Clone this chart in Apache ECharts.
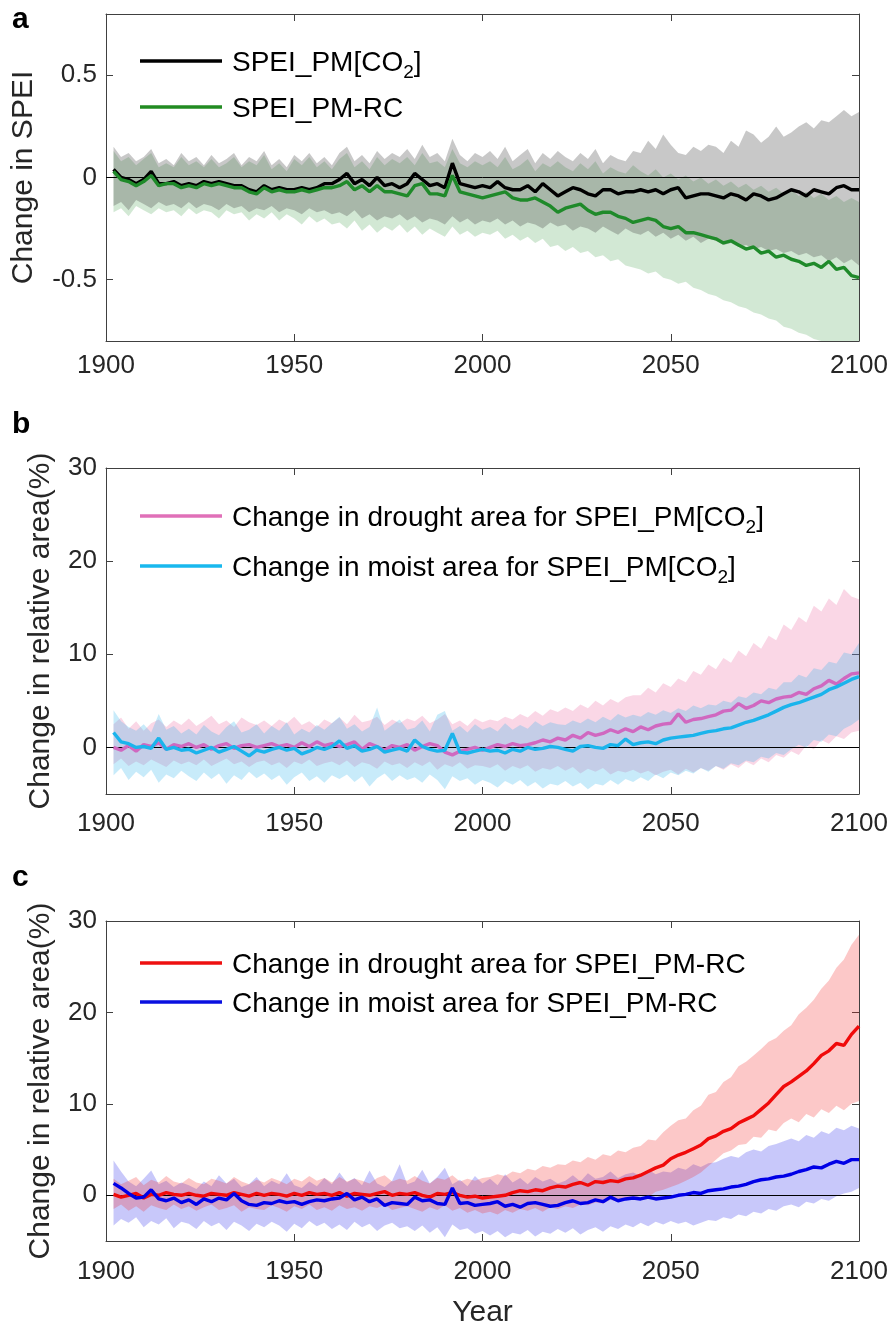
<!DOCTYPE html>
<html><head><meta charset="utf-8">
<script src="https://cdn.jsdelivr.net/npm/echarts@6/dist/echarts.min.js"></script>
<style>html,body{margin:0;padding:0;background:#fff}#c{width:892px;height:1329px}</style>
</head><body><div id="c"></div>
<script>
// x positions: one value every 2 years
const years = []; for (let y = 1902; y <= 2100; y += 2) years.push(y);

// ---------- panel a : change in SPEI ----------
const aPM = [0.04,0.00,-0.01,-0.03,-0.01,0.03,-0.03,-0.03,-0.02,-0.04,
 -0.03,-0.04,-0.02,-0.03,-0.02,-0.03,-0.04,-0.04,-0.06,-0.07,
 -0.04,-0.06,-0.05,-0.06,-0.06,-0.05,-0.06,-0.05,-0.03,-0.03,
 -0.01,0.02,-0.03,-0.01,-0.04,0.00,-0.04,-0.03,-0.05,-0.03,
 0.02,-0.01,-0.04,-0.03,-0.05,0.07,-0.03,-0.04,-0.05,-0.04,
 -0.05,-0.02,-0.05,-0.06,-0.06,-0.04,-0.07,-0.03,-0.06,-0.09,
 -0.07,-0.05,-0.06,-0.08,-0.09,-0.06,-0.06,-0.08,-0.07,-0.07,
 -0.06,-0.07,-0.06,-0.08,-0.06,-0.05,-0.10,-0.09,-0.08,-0.08,
 -0.09,-0.10,-0.08,-0.09,-0.11,-0.08,-0.09,-0.11,-0.10,-0.08,
 -0.06,-0.07,-0.09,-0.06,-0.07,-0.08,-0.05,-0.04,-0.06,-0.06];
const aRC = [0.03,-0.01,-0.02,-0.04,-0.02,0.01,-0.04,-0.03,-0.03,-0.05,
 -0.04,-0.05,-0.03,-0.04,-0.03,-0.04,-0.05,-0.05,-0.07,-0.08,
 -0.05,-0.07,-0.06,-0.07,-0.07,-0.06,-0.07,-0.06,-0.05,-0.05,
 -0.04,-0.02,-0.06,-0.04,-0.07,-0.04,-0.07,-0.07,-0.08,-0.09,
 -0.04,-0.03,-0.08,-0.08,-0.09,0.01,-0.07,-0.08,-0.09,-0.10,
 -0.09,-0.08,-0.07,-0.10,-0.11,-0.11,-0.10,-0.12,-0.14,-0.17,
 -0.15,-0.14,-0.13,-0.16,-0.18,-0.17,-0.17,-0.19,-0.20,-0.22,
 -0.21,-0.20,-0.21,-0.24,-0.25,-0.24,-0.27,-0.27,-0.28,-0.29,
 -0.30,-0.32,-0.31,-0.33,-0.35,-0.34,-0.37,-0.36,-0.39,-0.38,
 -0.40,-0.41,-0.43,-0.42,-0.44,-0.41,-0.45,-0.44,-0.48,-0.49];
const aPMUp = [0.15,0.10,0.12,0.08,0.10,0.14,0.07,0.09,0.06,0.12,
 0.08,0.10,0.06,0.11,0.07,0.09,0.12,0.06,0.10,0.08,
 0.13,0.06,0.09,0.05,0.11,0.08,0.12,0.07,0.10,0.06,
 0.12,0.15,0.08,0.11,0.07,0.13,0.09,0.12,0.10,0.14,
 0.09,0.16,0.10,0.12,0.08,0.19,0.11,0.08,0.12,0.10,
 0.13,0.09,0.15,0.08,0.11,0.14,0.07,0.12,0.09,0.13,
 0.10,0.08,0.12,0.09,0.14,0.07,0.11,0.09,0.08,0.13,
 0.12,0.18,0.14,0.21,0.16,0.12,0.11,0.15,0.13,0.16,
 0.15,0.12,0.18,0.15,0.23,0.21,0.17,0.20,0.25,0.20,
 0.22,0.25,0.27,0.24,0.28,0.27,0.30,0.33,0.30,0.32];
const aPMLo = [-0.14,-0.12,-0.16,-0.11,-0.13,-0.15,-0.12,-0.14,-0.13,-0.15,
 -0.12,-0.15,-0.13,-0.14,-0.16,-0.13,-0.15,-0.14,-0.17,-0.15,
 -0.16,-0.14,-0.17,-0.15,-0.16,-0.18,-0.15,-0.17,-0.16,-0.18,
 -0.17,-0.19,-0.16,-0.20,-0.18,-0.21,-0.19,-0.20,-0.18,-0.21,
 -0.19,-0.22,-0.20,-0.21,-0.23,-0.19,-0.22,-0.20,-0.23,-0.21,
 -0.22,-0.20,-0.23,-0.21,-0.24,-0.22,-0.23,-0.25,-0.22,-0.24,
 -0.23,-0.26,-0.24,-0.25,-0.27,-0.24,-0.26,-0.28,-0.25,-0.27,
 -0.28,-0.26,-0.29,-0.27,-0.30,-0.28,-0.31,-0.29,-0.32,-0.30,
 -0.31,-0.33,-0.32,-0.34,-0.33,-0.35,-0.34,-0.36,-0.35,-0.37,
 -0.36,-0.38,-0.37,-0.39,-0.38,-0.41,-0.39,-0.42,-0.40,-0.43];
const aRCUp = [0.13,0.08,0.10,0.06,0.09,0.12,0.05,0.07,0.05,0.10,
 0.06,0.08,0.05,0.09,0.05,0.07,0.10,0.05,0.08,0.06,
 0.11,0.04,0.07,0.03,0.09,0.06,0.10,0.05,0.08,0.04,
 0.09,0.12,0.05,0.08,0.04,0.10,0.06,0.09,0.07,0.10,
 0.06,0.12,0.07,0.08,0.05,0.14,0.07,0.05,0.08,0.06,
 0.08,0.05,0.10,0.04,0.06,0.09,0.03,0.07,0.05,0.08,
 0.05,0.03,0.07,0.04,0.08,0.02,0.05,0.03,0.02,0.06,
 0.03,0.01,0.04,0.00,0.02,-0.01,0.01,-0.02,0.00,-0.03,
 -0.01,-0.04,-0.02,-0.05,-0.03,-0.06,-0.04,-0.07,-0.05,-0.08,
 -0.06,-0.09,-0.07,-0.10,-0.08,-0.11,-0.09,-0.12,-0.10,-0.12];
const aRCLo = [-0.17,-0.15,-0.19,-0.14,-0.16,-0.18,-0.15,-0.17,-0.16,-0.19,
 -0.15,-0.18,-0.16,-0.17,-0.20,-0.16,-0.18,-0.17,-0.21,-0.18,
 -0.20,-0.17,-0.21,-0.18,-0.20,-0.23,-0.19,-0.22,-0.20,-0.23,
 -0.22,-0.25,-0.21,-0.26,-0.23,-0.27,-0.24,-0.26,-0.23,-0.27,
 -0.24,-0.28,-0.25,-0.27,-0.29,-0.24,-0.28,-0.26,-0.29,-0.27,
 -0.28,-0.26,-0.30,-0.28,-0.31,-0.29,-0.32,-0.30,-0.34,-0.33,
 -0.36,-0.34,-0.37,-0.36,-0.39,-0.38,-0.41,-0.40,-0.43,-0.44,
 -0.45,-0.47,-0.46,-0.49,-0.50,-0.52,-0.51,-0.54,-0.55,-0.57,
 -0.58,-0.60,-0.61,-0.63,-0.64,-0.66,-0.67,-0.69,-0.70,-0.73,
 -0.74,-0.76,-0.77,-0.79,-0.80,-0.83,-0.84,-0.87,-0.88,-0.90];

// ---------- panel b : SPEI_PM[CO2] areas (%) ----------
const bDr = [0.0,-0.3,0.2,-0.4,0.3,0.1,0.5,-0.2,0.3,0.1,
 0.4,0.0,0.3,-0.2,0.2,0.4,-0.1,0.2,0.3,0.0,
 0.2,0.4,0.1,0.3,0.0,0.5,0.1,0.6,0.2,0.4,
 0.1,0.3,0.6,-0.2,0.4,0.1,-0.3,0.2,0.0,0.3,
 -0.3,0.1,0.4,0.2,-0.5,-0.8,-0.4,-0.2,0.0,-0.3,
 0.0,0.3,0.1,0.4,0.2,0.3,0.5,0.8,0.6,1.0,
 0.8,1.3,1.0,1.6,1.3,1.5,1.9,1.6,2.0,1.7,
 2.2,1.9,2.3,2.5,2.6,3.6,2.7,3.0,3.1,3.3,
 3.5,3.9,4.0,4.7,4.2,4.5,5.0,4.8,5.2,5.4,
 5.5,5.9,5.7,6.3,6.6,7.2,6.8,7.4,7.9,8.0];
const bMo = [1.6,0.6,0.4,0.0,0.1,-0.1,1.0,-0.2,0.0,-0.3,
 -0.2,-0.6,-0.3,0.0,-0.5,-0.2,0.1,-0.4,-0.9,-0.3,
 -0.5,-0.2,0.0,-0.3,-0.1,-0.7,-0.4,0.0,-0.2,0.1,
 0.7,-0.1,0.2,-0.4,-0.2,0.1,-0.5,-0.3,-0.1,-0.4,
 0.8,0.1,-0.2,-0.4,-0.3,1.5,-0.5,-0.6,-0.4,-0.2,
 -0.4,-0.3,-0.6,-0.2,-0.4,0.0,-0.2,-0.1,0.1,0.0,
 -0.2,-0.4,0.1,0.2,0.0,-0.1,0.3,0.2,0.9,0.3,
 0.5,0.6,0.4,0.8,1.0,1.1,1.2,1.3,1.5,1.7,
 1.8,2.0,2.1,2.4,2.7,2.9,3.2,3.5,3.9,4.3,
 4.6,4.8,5.1,5.4,5.7,6.2,6.5,6.9,7.3,7.6];
const bDrUp = [2.5,3.2,2.0,2.8,1.8,2.6,3.0,2.2,2.9,2.4,
 3.1,2.3,2.8,3.4,2.5,2.9,2.2,3.2,2.7,2.4,
 2.9,2.3,3.0,2.6,3.3,2.4,2.8,2.2,3.0,2.6,
 3.2,2.5,3.5,2.7,2.9,3.3,2.4,3.0,2.6,3.1,
 2.8,3.4,2.6,3.0,3.6,2.5,2.9,2.3,3.1,2.7,
 3.0,2.8,3.3,3.0,3.6,3.2,3.9,3.4,4.1,3.8,
 4.3,3.9,4.6,4.2,5.0,4.5,5.2,4.8,5.4,5.6,
 5.6,6.4,5.9,6.9,6.5,7.4,7.0,8.2,7.8,8.9,
 8.4,9.6,9.1,10.4,9.8,11.2,10.6,12.0,11.5,13.2,
 12.6,14.0,13.4,15.2,14.6,16.0,15.3,17.0,16.2,15.9];
const bDrLo = [-1.8,-1.2,-2.0,-1.5,-1.9,-1.3,-1.7,-2.1,-1.4,-1.8,
 -1.5,-1.9,-1.3,-2.0,-1.6,-1.2,-1.8,-1.5,-2.1,-1.6,
 -1.4,-1.9,-1.6,-2.2,-1.5,-1.8,-1.3,-2.0,-1.7,-1.5,
 -1.9,-1.4,-2.1,-1.6,-1.8,-2.3,-1.5,-1.9,-1.7,-2.2,
 -1.6,-2.0,-1.5,-2.4,-1.8,-2.1,-1.6,-2.3,-1.9,-2.0,
 -2.2,-1.8,-2.5,-2.0,-2.3,-1.9,-2.6,-2.2,-2.4,-2.0,
 -2.5,-2.1,-2.8,-2.3,-2.6,-2.2,-2.9,-2.5,-2.7,-2.4,
 -2.8,-2.5,-3.0,-2.6,-2.4,-2.9,-2.3,-2.7,-2.2,-2.5,
 -2.0,-2.4,-1.8,-2.2,-1.5,-1.9,-1.2,-1.6,-0.8,-1.1,
 -0.4,-0.8,0.2,-0.2,0.8,0.4,1.2,0.9,1.6,1.8];
const bMoUp = [4.0,2.8,2.2,1.8,2.5,1.6,3.6,1.9,2.3,1.5,
 2.0,1.4,2.4,1.7,1.3,2.2,2.8,1.6,1.9,2.5,
 1.5,2.3,1.8,2.7,1.4,2.0,1.6,2.4,1.9,2.6,
 3.3,2.0,2.5,1.7,2.2,4.3,1.8,2.4,3.0,1.9,
 2.1,2.9,1.7,3.5,3.9,1.8,2.3,1.6,2.5,1.9,
 2.2,1.7,2.6,1.9,2.4,2.0,2.8,2.3,2.7,2.5,
 2.4,2.9,2.6,3.1,2.7,3.3,2.9,3.6,3.2,3.5,
 3.3,3.8,3.5,4.0,3.7,4.2,3.9,4.5,4.2,4.6,
 4.5,5.0,4.8,5.5,5.3,5.9,5.7,6.4,6.2,7.0,
 7.0,7.8,7.5,8.5,8.3,9.2,9.0,10.2,10.0,11.2];
const bMoLo = [-3.0,-2.2,-3.5,-2.6,-3.2,-2.4,-3.8,-2.9,-3.3,-2.5,
 -3.1,-3.6,-2.7,-3.4,-2.8,-3.9,-3.0,-3.5,-2.6,-3.3,
 -2.8,-3.5,-3.0,-4.0,-3.2,-2.7,-3.6,-3.1,-3.8,-3.0,
 -3.4,-2.9,-3.7,-3.1,-4.2,-3.3,-2.8,-3.6,-3.0,-3.5,
 -3.2,-3.8,-2.9,-3.5,-4.5,-3.1,-3.6,-3.3,-4.0,-3.5,
 -3.8,-4.3,-3.6,-4.0,-3.5,-4.2,-3.7,-4.4,-3.9,-4.1,
 -3.6,-4.2,-3.8,-4.5,-3.9,-4.1,-3.5,-4.0,-3.4,-3.7,
 -3.2,-3.6,-2.9,-3.3,-2.7,-3.0,-2.5,-2.8,-2.2,-2.6,
 -2.0,-2.3,-1.7,-1.9,-1.4,-1.6,-1.0,-1.2,-0.6,-0.8,
 -0.2,0.3,0.0,0.8,0.6,1.4,1.2,2.0,2.4,3.0];

// ---------- panel c : SPEI_PM-RC areas (%) ----------
const cDr = [0.1,-0.2,0.0,0.2,-0.3,0.1,0.0,0.3,0.1,0.0,
 0.2,0.0,-0.1,0.2,0.1,0.0,0.3,0.1,-0.1,0.2,
 0.0,0.2,0.1,-0.1,0.2,0.0,0.3,0.1,0.2,0.0,
 0.3,-0.1,0.2,0.1,0.0,0.2,0.4,0.0,0.2,0.1,
 0.3,0.0,-0.2,0.2,0.1,0.3,0.0,-0.2,-0.1,-0.3,
 -0.2,-0.1,0.0,0.3,0.5,0.4,0.6,0.5,0.8,1.0,
 0.9,1.2,1.4,1.1,1.5,1.4,1.6,1.5,1.8,1.9,
 2.2,2.6,3.0,3.3,4.0,4.4,4.7,5.1,5.5,6.2,
 6.5,7.0,7.3,7.9,8.3,8.7,9.4,10.1,11.0,11.9,
 12.4,13.0,13.6,14.4,15.3,15.8,16.6,16.4,17.6,18.5];
const cMo = [1.3,0.8,0.2,-0.3,-0.2,0.6,-0.4,-0.6,-0.3,-0.8,
 -0.5,-1.0,-0.4,-0.7,-0.3,-0.5,0.2,-0.6,-1.0,-1.1,
 -0.8,-0.9,-0.6,-0.8,-0.7,-1.0,-0.7,-0.5,-0.6,-0.4,
 -0.3,0.2,-0.5,-0.2,-0.7,-0.4,-1.1,-0.8,-0.9,-1.0,
 -0.2,-0.6,-0.5,-0.9,-1.0,0.8,-0.9,-0.8,-1.1,-1.0,
 -0.9,-0.7,-1.2,-1.0,-1.3,-0.9,-0.8,-1.0,-1.2,-1.1,
 -0.8,-0.6,-0.9,-0.8,-0.5,-0.7,-0.2,-0.6,-0.4,-0.3,
 -0.4,-0.2,-0.4,-0.3,-0.2,0.0,0.1,0.3,0.2,0.5,
 0.6,0.7,0.9,1.0,1.2,1.5,1.7,1.8,2.0,2.1,
 2.3,2.6,2.8,3.1,3.0,3.4,3.7,3.5,3.9,3.9];
const cDrUp = [1.8,1.2,1.6,2.0,1.1,1.7,1.4,2.1,1.5,1.3,
 1.9,1.4,1.2,1.8,1.6,1.3,2.0,1.5,1.2,1.7,
 1.4,1.9,1.6,1.2,1.8,1.5,2.1,1.6,1.9,1.4,
 2.0,1.5,1.8,1.6,1.3,1.9,2.2,1.5,1.8,1.6,
 2.1,1.6,1.3,1.9,1.7,2.2,1.5,1.8,1.6,1.9,
 2.0,2.3,2.1,2.6,2.4,2.9,2.7,3.2,3.0,3.4,
 3.3,3.8,3.6,4.2,3.9,4.5,4.3,4.9,4.7,5.2,
 5.4,6.1,6.0,6.9,7.6,8.2,8.4,9.3,9.8,11.0,
 11.3,12.4,12.9,14.1,14.6,15.3,16.0,16.8,17.2,18.0,
 18.6,19.8,20.5,21.4,22.6,23.5,24.9,25.8,27.4,28.5];
const cDrLo = [-1.5,-1.0,-1.7,-1.2,-1.8,-1.1,-1.4,-1.6,-1.0,-1.5,
 -1.2,-1.7,-1.3,-1.0,-1.6,-1.4,-1.1,-1.8,-1.3,-1.5,
 -1.6,-1.1,-1.4,-1.8,-1.2,-1.5,-1.0,-1.6,-1.3,-1.7,
 -1.1,-1.5,-1.3,-1.7,-1.2,-1.4,-1.0,-1.6,-1.4,-1.2,
 -1.5,-1.8,-1.3,-1.6,-1.1,-1.7,-1.4,-1.9,-1.6,-2.0,
 -1.8,-2.1,-1.6,-1.9,-1.5,-1.7,-1.4,-1.8,-1.3,-1.5,
 -1.2,-1.4,-1.0,-1.1,-0.8,-0.9,-0.5,-0.7,-0.3,-0.4,
 0.0,-0.2,0.4,0.6,0.9,1.2,1.6,2.0,2.5,3.2,
 3.9,4.6,4.9,5.5,5.6,6.4,6.3,7.2,7.0,7.9,
 8.4,8.0,8.9,8.5,9.4,9.0,9.8,9.3,10.0,10.3];
const cMoUp = [3.8,2.6,1.5,1.0,1.8,2.7,1.2,1.6,0.9,1.4,
 1.1,0.7,1.5,1.0,2.2,1.3,1.8,0.9,1.2,2.0,
 1.0,1.6,1.2,2.4,1.1,0.8,1.5,1.0,1.9,1.2,
 2.5,1.4,1.9,1.1,2.7,1.3,0.9,1.6,3.4,1.2,
 1.5,2.8,1.3,2.0,3.0,1.2,1.7,1.0,2.1,1.3,
 1.8,1.1,2.3,1.4,1.9,1.2,2.0,1.5,1.8,1.3,
 1.6,2.2,1.5,2.4,1.8,2.0,2.6,1.9,2.3,2.5,
 2.1,2.8,2.3,2.6,2.5,3.0,2.8,3.4,3.1,3.5,
 3.6,4.0,4.3,4.1,4.7,5.0,4.8,5.4,5.6,5.9,
 6.2,5.9,6.6,6.3,7.0,6.7,7.4,7.1,7.6,7.3];
const cMoLo = [-3.3,-2.6,-3.0,-2.4,-3.5,-2.8,-3.2,-2.5,-3.6,-2.9,
 -3.1,-3.7,-2.8,-3.4,-3.0,-3.8,-2.9,-3.3,-3.9,-3.1,
 -3.5,-2.9,-3.3,-4.0,-3.1,-3.6,-2.8,-3.4,-3.0,-3.7,
 -3.2,-3.8,-2.9,-3.5,-3.1,-3.9,-3.3,-3.0,-3.6,-3.4,
 -3.9,-3.3,-4.1,-3.5,-4.6,-3.2,-3.8,-3.6,-4.2,-3.9,
 -4.4,-3.9,-4.6,-4.1,-4.3,-3.8,-4.5,-4.0,-4.2,-3.7,
 -4.1,-3.6,-4.3,-3.8,-3.5,-4.0,-3.4,-3.7,-3.2,-3.5,
 -3.0,-3.4,-2.9,-3.2,-2.8,-3.1,-2.9,-3.3,-3.0,-2.7,
 -2.8,-2.4,-2.6,-2.1,-2.3,-1.8,-2.0,-1.5,-1.7,-1.2,
 -1.0,-1.3,-0.7,-0.9,-0.4,-0.6,-0.1,0.2,0.4,0.8];

// ---------- tick labels ----------
const xTicks = [1900, 1950, 2000, 2050, 2100];
const aYTicks = [-0.5, 0, 0.5];
const bcYTicks = [0, 10, 20, 30];

const FONT = '"Liberation Sans", Arial, Helvetica, sans-serif';
const AX = '#404040', TXT = '#262626';
const grids = [
  {left: 106, top: 14, width: 753, height: 327},
  {left: 106, top: 468, width: 753, height: 326},
  {left: 106, top: 921, width: 753, height: 326}
];
const yRanges = [[-0.8, 0.8, aYTicks], [-5, 30, bcYTicks], [-5, 30, bcYTicks]];
const yNames = ['Change in SPEI', 'Change in relative area(%)', 'Change in relative area(%)'];
const yNameGaps = [67, 50, 50];
const xMargins = [12, 17, 18];
const plain = v => String(v);

const xAxis = [], yAxis = [];
grids.forEach((g, p) => {
  const base = {type: 'value', gridIndex: p, min: 1900, max: 2100, interval: 50,
    axisLine: {show: true, onZero: false, lineStyle: {color: AX, width: 1}},
    axisTick: {show: true, inside: true, length: 7, customValues: xTicks, lineStyle: {color: AX, width: 1}},
    splitLine: {show: false}};
  xAxis.push(Object.assign({}, base, {position: 'bottom',
    axisLabel: {show: true, customValues: xTicks, formatter: plain, fontSize: 26, color: TXT, fontFamily: FONT,
      margin: xMargins[p], showMinLabel: true, showMaxLabel: true},
    name: p === 2 ? 'Year' : '', nameLocation: 'middle', nameGap: 57,
    nameTextStyle: {fontSize: 30, color: TXT, fontFamily: FONT}}));
  xAxis.push(Object.assign({}, base, {position: 'top', axisLabel: {show: false}}));
  const [mn, mx, tk] = yRanges[p];
  const ybase = {type: 'value', gridIndex: p, min: mn, max: mx,
    axisLine: {show: true, onZero: false, lineStyle: {color: AX, width: 1}},
    axisTick: {show: true, inside: true, length: 7, customValues: tk, lineStyle: {color: AX, width: 1}},
    splitLine: {show: false}};
  yAxis.push(Object.assign({}, ybase, {position: 'left',
    axisLabel: {show: true, customValues: tk, formatter: plain, fontSize: 26, color: TXT, fontFamily: FONT, margin: 9},
    name: yNames[p], nameLocation: 'middle', nameGap: yNameGaps[p],
    nameTextStyle: {fontSize: 30, color: TXT, fontFamily: FONT}}));
  yAxis.push(Object.assign({}, ybase, {position: 'right', axisLabel: {show: false}}));
});

function band(p, up, lo, fill, z) {
  return {type: 'custom', xAxisIndex: 2 * p, yAxisIndex: 2 * p, z: z, clip: true, silent: true,
    data: [[years[0], lo[0]]], encode: {x: 0, y: 1},
    renderItem: function (params, api) {
      const pts = [];
      for (let i = 0; i < years.length; i++) pts.push(api.coord([years[i], up[i]]));
      for (let i = years.length - 1; i >= 0; i--) pts.push(api.coord([years[i], lo[i]]));
      return {type: 'polygon', shape: {points: pts}, style: {fill: fill}};
    }};
}
function line(p, vals, color, z, zero) {
  const s = {type: 'line', xAxisIndex: 2 * p, yAxisIndex: 2 * p, z: z, symbol: 'none', showSymbol: false,
    clip: true, silent: true, data: years.map((y, i) => [y, vals[i]]),
    lineStyle: {color: color, width: 3.4}, itemStyle: {color: color}};
  if (zero) s.markLine = {silent: true, symbol: 'none', z: 3, animation: false,
    label: {show: false}, lineStyle: {color: '#000', width: 1, type: 'solid'}, data: [{yAxis: 0}]};
  return s;
}

const series = [
  band(0, aRCUp, aRCLo, 'rgba(75,163,83,0.25)', 1),
  band(0, aPMUp, aPMLo, 'rgba(65,65,65,0.29)', 2),
  line(0, aPM, '#000000', 10, true),
  line(0, aRC, '#1f8a2a', 11, false),
  band(1, bDrUp, bDrLo, 'rgba(230,55,130,0.2)', 1),
  band(1, bMoUp, bMoLo, 'rgba(35,175,235,0.25)', 2),
  line(1, bDr, '#d068c0', 10, true),
  line(1, bMo, '#1ab4ec', 11, false),
  band(2, cMoUp, cMoLo, 'rgba(35,35,235,0.25)', 1),
  band(2, cDrUp, cDrLo, 'rgba(243,35,35,0.25)', 2),
  line(2, cDr, '#f00a0a', 10, true),
  line(2, cMo, '#0000e6', 11, false)
];

const rich = {
  a: {fontSize: 28, fontFamily: FONT, fill: '#000', verticalAlign: 'middle'},
  s: {fontSize: 19, fontFamily: FONT, fill: '#000', padding: [20, 0, 0, 0], verticalAlign: 'middle'}
};
function legendItem(y, color, text) {
  return [
    {type: 'line', z: 100, shape: {x1: 140, y1: y, x2: 222, y2: y}, style: {stroke: color, lineWidth: 3.5}},
    {type: 'text', z: 100, x: 232, y: y + 2, style: {text: text, rich: rich, fontSize: 28, fontFamily: FONT,
      fill: '#000', align: 'left', verticalAlign: 'middle'}}
  ];
}
function letter(ch, y) {
  return {type: 'text', x: 12, y: y, style: {text: ch, fontSize: 30, fontWeight: 'bold', fontFamily: FONT,
    fill: '#000', align: 'left', verticalAlign: 'middle'}};
}
const graphic = [].concat(
  legendItem(61, '#000000', '{a|SPEI_PM[CO}{s|2}{a|]}'),
  legendItem(107, '#228b22', '{a|SPEI_PM-RC}'),
  legendItem(516, '#e070b8', '{a|Change in drought area for SPEI_PM[CO}{s|2}{a|]}'),
  legendItem(566, '#18b8ee', '{a|Change in moist area for SPEI_PM[CO}{s|2}{a|]}'),
  legendItem(963, '#ee1010', '{a|Change in drought area for SPEI_PM-RC}'),
  legendItem(1002, '#0a10e0', '{a|Change in moist area for SPEI_PM-RC}'),
  [letter('a', 20), letter('b', 425), letter('c', 878)]
);

const chart = echarts.init(document.getElementById('c'), null, {renderer: 'canvas'});
chart.setOption({animation: false, backgroundColor: '#ffffff', grid: grids, xAxis: xAxis, yAxis: yAxis,
  series: series, graphic: graphic});
</script></body></html>
